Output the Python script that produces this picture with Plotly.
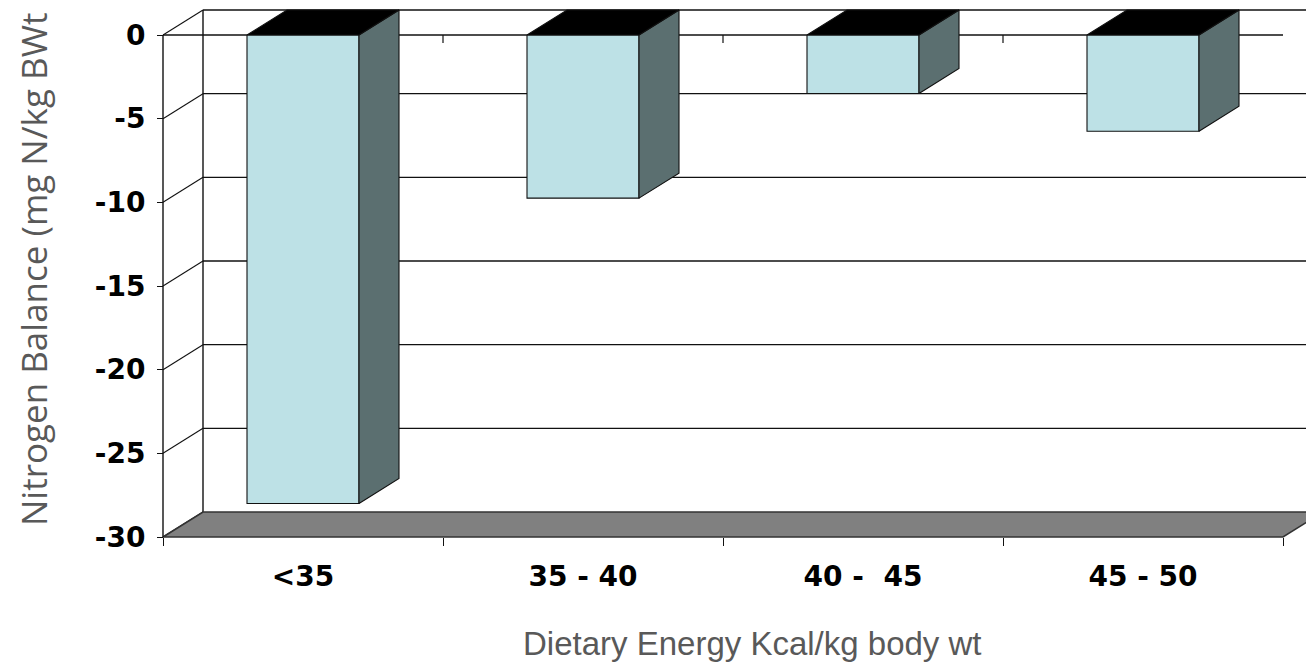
import plotly.graph_objects as go

# ---- data ----
categories = ["<35", "35 - 40", "40 -  45", "45 - 50"]
nitrogen_balance = [-28.0, -9.75, -3.5, -5.75]
y_tick_values = [0, -5, -10, -15, -20, -25, -30]
y_tick_labels = ["0", "-5", "-10", "-15", "-20", "-25", "-30"]
x_title = "Dietary Energy Kcal/kg body wt"
y_title = "Nitrogen Balance (mg N/kg BWt"

# ---- geometry (pixel layout) ----
W, H = 1306, 664
ML, MR, MT, MB = 150, 0, 0, 110
PW, PH = W - ML - MR, H - MT - MB
AX_LEFT_PX, AX_RIGHT_PX = 163, 1283
AX_ZERO_PX, AX_BOTTOM_PX = 35, 537
YMIN = -30
PXX = (AX_RIGHT_PX - AX_LEFT_PX) / len(categories)
PXY = (AX_BOTTOM_PX - AX_ZERO_PX) / (0 - YMIN)
DX = 40 / PXX
DY = 25 / PXY
BAR_W = 0.4
XL = -0.5
XR = len(categories) - 0.5

x_range = [XL - (AX_LEFT_PX - ML) / PXX, XL + (W - AX_LEFT_PX) / PXX]
y_range = [YMIN - (MT + PH - AX_BOTTOM_PX) / PXY, YMIN + (AX_BOTTOM_PX - MT) / PXY]

LINE = "#111111"
FRONT = "#bde1e6"
SIDE = "#5b6f70"
TOP = "#000000"
FLOOR = "#808080"

fig = go.Figure()

def seg(xs, ys, color=LINE, width=1.4):
    fig.add_trace(go.Scatter(x=xs, y=ys, mode="lines", line=dict(color=color, width=width),
                             hoverinfo="skip", showlegend=False))

def poly(xs, ys, fill, color=LINE, width=1.1):
    fig.add_trace(go.Scatter(x=xs + [xs[0]], y=ys + [ys[0]], mode="lines", fill="toself",
                             fillcolor=fill, line=dict(color=color, width=width),
                             hoverinfo="skip", showlegend=False))

# back wall gridlines + side wall diagonals
for v in y_tick_values:
    if v > YMIN:
        seg([XL + DX, x_range[1] + 1], [v + DY, v + DY])
    seg([XL, XL + DX], [v, v + DY], width=1.1)
# back wall left vertical
seg([XL + DX, XL + DX], [0 + DY, YMIN + DY])

# floor
poly([XL, XR, XR + DX, XL + DX], [YMIN, YMIN, YMIN + DY, YMIN + DY], FLOOR, color="#333333", width=1.6)

# front zero line with small ticks at category boundaries
seg([XL, XR], [0, 0])
for i in range(1, len(categories)):
    seg([i - 0.5, i - 0.5], [0, -8 / PXY], width=1.2)

# bars
for i, v in enumerate(nitrogen_balance):
    x0, x1 = i - BAR_W / 2, i + BAR_W / 2
    poly([x0, x1, x1, x0], [0, 0, v, v], FRONT)
    poly([x1, x1 + DX, x1 + DX, x1], [0, DY, v + DY, v], SIDE)
    poly([x0, x1, x1 + DX, x0 + DX], [0, 0, DY, DY], TOP)

# front vertical axis line
seg([XL, XL], [0, YMIN], width=1.4)

fig.update_layout(
    width=W, height=H,
    margin=dict(l=ML, r=MR, t=MT, b=MB),
    paper_bgcolor="white", plot_bgcolor="white",
    showlegend=False,
    xaxis=dict(
        range=x_range, showgrid=False, zeroline=False, showline=False,
        tickmode="array", tickvals=list(range(len(categories))), ticktext=categories,
        ticks="", ticklabelstandoff=20,
        tickfont=dict(family="DejaVu Sans", size=28, color="black", weight="bold"),
        minor=dict(ticks="outside", tick0=-0.5, dtick=1, ticklen=8, tickcolor=LINE,
                   tickwidth=1.3, showgrid=False),
        anchor="free", position=(MT + PH - AX_BOTTOM_PX) / PH,
    ),
    yaxis=dict(
        range=y_range, showgrid=False, zeroline=False, showline=False,
        tickmode="array", tickvals=y_tick_values, ticktext=y_tick_labels,
        ticks="outside", ticklen=6, tickcolor=LINE, tickwidth=1.3, ticklabelstandoff=6,
        tickfont=dict(family="DejaVu Sans", size=28, color="black", weight="bold"),
        anchor="free", position=(AX_LEFT_PX - ML) / PW,
    ),
    annotations=[
        dict(text=x_title, xref="paper", yref="paper",
             x=(752 - ML) / PW, y=1 - (643 - MT) / PH, showarrow=False,
             xanchor="center", yanchor="middle",
             font=dict(family="Liberation Sans", size=33, color="#595959")),
        dict(text=y_title, xref="paper", yref="paper",
             x=(33 - ML) / PW, y=1 - (270 - MT) / PH, showarrow=False, textangle=-90,
             xanchor="center", yanchor="middle",
             font=dict(family="Open Sans", size=35, color="#595959")),
    ],
)

fig.write_html("out.html", config={"displayModeBar": False},
               post_script="document.body.style.margin='0';")
